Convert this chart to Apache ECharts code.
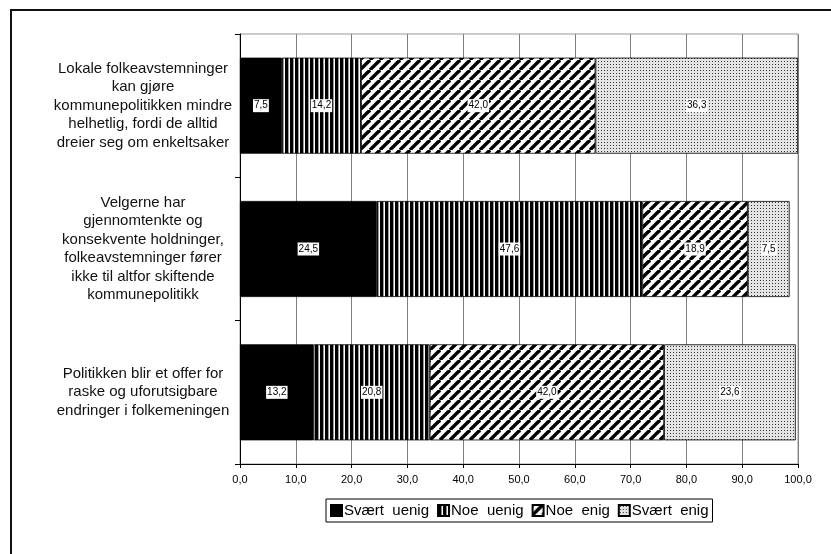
<!DOCTYPE html>
<html>
<head>
<meta charset="utf-8">
<script src="https://cdn.jsdelivr.net/npm/echarts@6/dist/echarts.min.js"></script>
<style>html,body{margin:0;padding:0;background:#fff;}#c{width:831px;height:554px;}</style>
</head>
<body>
<div id="c"></div>
<script>
var categories = [
  "Lokale folkeavstemninger\nkan gjøre\nkommunepolitikken mindre\nhelhetlig, fordi de alltid\ndreier seg om enkeltsaker",
  "Velgerne har\ngjennomtenkte og\nkonsekvente holdninger,\nfolkeavstemninger fører\nikke til altfor skiftende\nkommunepolitikk",
  "Politikken blir et offer for\nraske og uforutsigbare\nendringer i folkemeningen"
];
var seriesNames = ["Svært  uenig", "Noe  uenig", "Noe  enig", "Svært  enig"];
var sværtUenig = [7.5, 24.5, 13.2];
var noeUenig = [14.2, 47.6, 20.8];
var noeEnig = [42.0, 18.9, 42.0];
var sværtEnig = [36.3, 7.5, 23.6];
var xTicks = [0, 10, 20, 30, 40, 50, 60, 70, 80, 90, 100];

function mk(w, h, draw) {
  var c = document.createElement('canvas');
  c.width = w; c.height = h;
  var g = c.getContext('2d');
  draw(g, w, h);
  return { image: c, repeat: 'repeat' };
}
var solid = '#000';
var vstripe = mk(5, 5, function (g) {
  g.fillStyle = '#fff'; g.fillRect(0, 0, 5, 5);
  g.fillStyle = '#000'; g.fillRect(0, 0, 3, 5);
  g.fillStyle = '#999'; g.fillRect(3, 0, 1, 5);
});
var diag = mk(10, 10, function (g) {
  g.fillStyle = '#fff'; g.fillRect(0, 0, 10, 10);
  g.strokeStyle = '#000'; g.lineWidth = 3.4;
  [-10, 0, 10].forEach(function (o) {
    g.beginPath(); g.moveTo(o, 10); g.lineTo(o + 10, 0); g.stroke();
  });
});
var dots = mk(3, 3, function (g) {
  g.fillStyle = '#e4e4e4'; g.fillRect(0, 0, 3, 3);
  g.fillStyle = '#333'; g.fillRect(1, 1, 1, 1);
});
var fills = [solid, vstripe, diag, dots];
var dataArr = [sværtUenig, noeUenig, noeEnig, sværtEnig];

var chart = echarts.init(document.getElementById('c'));
var series = seriesNames.map(function (n, i) {
  return {
    name: n, type: 'bar', stack: 'all', barWidth: '67%',
    data: dataArr[i],
    itemStyle: { color: fills[i], borderColor: '#000', borderWidth: 0.8 },
    label: {
      show: true, position: 'inside', color: '#000', fontSize: 10,
      fontFamily: 'Liberation Sans', backgroundColor: '#fff', padding: [2, 1, 1, 1],
      formatter: function (p) { return p.value.toFixed(1).replace('.', ','); }
    }
  };
});
chart.setOption({
  animation: false,
  backgroundColor: '#fff',
  textStyle: { fontFamily: 'Liberation Sans' },
  grid: { left: 240, right: 33, top: 34, bottom: 90, show: true, borderColor: '#999', borderWidth: 1 },
  xAxis: {
    type: 'value', min: 0, max: 100, interval: 10,
    axisLine: { show: true, lineStyle: { color: '#000', width: 1 } },
    axisTick: { show: true, length: 4, lineStyle: { color: '#000' } },
    axisLabel: { color: '#000', fontSize: 11, margin: 10, fontFamily: 'Liberation Sans',
      formatter: function (v) { return v.toFixed(1).replace('.', ','); } },
    splitLine: { show: true, lineStyle: { color: '#808080', width: 1 } }
  },
  yAxis: {
    type: 'category', data: categories, inverse: true,
    axisLine: { show: true, lineStyle: { color: '#000', width: 1 } },
    axisTick: { show: true, length: 5, lineStyle: { color: '#000' } },
    axisLabel: { color: '#111', fontSize: 15, lineHeight: 18.5, align: 'center', margin: 97,
      fontFamily: 'Liberation Sans' }
  },
  legend: {
    left: 326, top: 499, data: seriesNames,
    borderColor: '#000', borderWidth: 1, padding: [4, 4, 4, 4],
    itemWidth: 11, itemHeight: 11, itemGap: 8,
    textStyle: { color: '#000', fontSize: 15, fontFamily: 'Liberation Sans', padding: [0, 0, 0, -3] },
    icon: 'rect'
  },
  graphic: [{
    type: 'rect', shape: { x: 11, y: 10, width: 900, height: 600 },
    style: { fill: 'none', stroke: '#111', lineWidth: 2 }, silent: true
  }],
  series: series
});
</script>
</body>
</html>
